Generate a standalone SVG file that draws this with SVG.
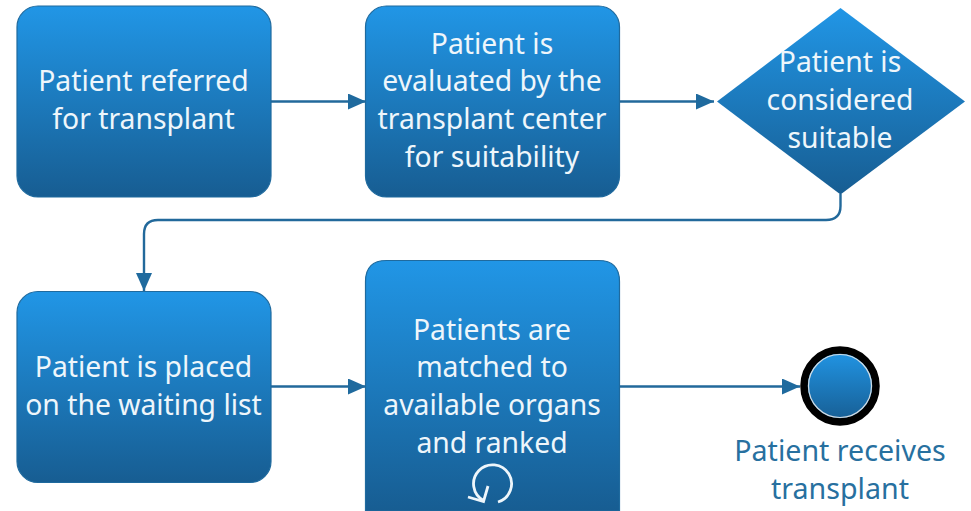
<svg xmlns="http://www.w3.org/2000/svg" width="971" height="511" viewBox="0 0 971 511">
<style>
.n{stroke:#1f6a9e;stroke-width:1.2}
.t{font-family:"Noto Sans","Liberation Sans",sans-serif;font-size:28.300px;fill:#eef6fb;text-anchor:middle}
.l{fill:#27709f;font-size:28.600px}
.c{fill:none;stroke:#22699b;stroke-width:2.400}
.i{fill:none;stroke:#eef6fb;stroke-width:2.800}
</style>
<defs>
<linearGradient id="g" x1="0" y1="0" x2="0" y2="1"><stop offset="0" stop-color="#2196e6"/><stop offset="1" stop-color="#175d92"/></linearGradient>
<marker id="a" markerUnits="userSpaceOnUse" markerWidth="20" markerHeight="18" refX="18" refY="8" orient="auto"><path d="M0 0L18 8L0 16Z" fill="#1f6a9e"/></marker>
</defs>
<rect width="971" height="511" fill="#fff"/>
<g id="connectors">
<path class="c" marker-end="url(#a)" d="M271 101.500H366"/>
<path class="c" marker-end="url(#a)" d="M619 101.500H714"/>
<path class="c" marker-end="url(#a)" d="M840.500 194V206Q840.500 220 826 220H158Q144 220 144 234V291"/>
<path class="c" marker-end="url(#a)" d="M271 386.500H366"/>
<path class="c" marker-end="url(#a)" d="M619 386.500H800"/>
</g>
<g id="n1"><rect class="n" x="17" y="6" width="254" height="191" rx="21" fill="url(#g)"/>
<text class="t" x="143.500" y="90.500">Patient referred</text><text class="t" x="143.500" y="128.700">for transplant</text></g>
<g id="n2"><rect class="n" x="365.500" y="6" width="254" height="191" rx="21" fill="url(#g)"/>
<text class="t" x="492" y="53.700">Patient is</text><text class="t" x="492" y="90.700">evaluated by the</text><text class="t" x="492" y="128.700">transplant center</text><text class="t" x="492" y="166.700">for suitability</text></g>
<g id="n3"><path d="M840.500 8L965 101.500L840.500 194.500L717 101.500Z" fill="url(#g)"/>
<text class="t" x="840" y="72.300">Patient is</text><text class="t" x="840" y="110.300">considered</text><text class="t" x="840" y="147.500">suitable</text></g>
<g id="n4"><rect class="n" x="17" y="291.500" width="254" height="191" rx="21" fill="url(#g)"/>
<text class="t" x="143.500" y="376.500">Patient is placed</text><text class="t" x="143.500" y="414.500">on the waiting list</text></g>
<g id="n5"><path class="n" fill="url(#g)" d="M386.500 260.500H598.500Q619.500 260.500 619.500 281.500V511H365.500V281.500Q365.500 260.500 386.500 260.500Z"/>
<text class="t" x="492" y="339.500">Patients are</text><text class="t" x="492" y="376.500">matched to</text><text class="t" x="492" y="414.500">available organs</text><text class="t" x="492" y="452.700">and ranked</text>
<path class="i" d="M498 502A19 19 0 1 0 483.500 500.500"/>
<path class="i" d="M468 497L483.500 501.500L488 486"/></g>
<g id="n6"><circle cx="840" cy="386" r="36" fill="url(#g)" stroke="#000" stroke-width="7.500"/>
<circle cx="840" cy="386" r="31.500" fill="none" stroke="#d5dde3" stroke-width="1.200"/>
<text class="t l" x="840" y="461.300">Patient receives</text><text class="t l" x="840" y="498.700">transplant</text></g>
</svg>
